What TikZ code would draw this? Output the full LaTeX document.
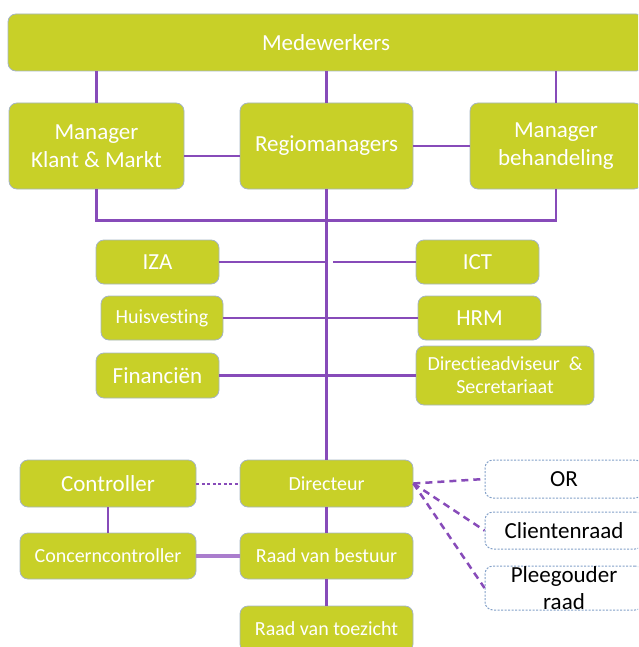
\documentclass[tikz,border=0pt]{standalone}
\usepackage{fontspec}
\setmainfont{Carlito}[Ligatures=NoCommon]
\definecolor{boxgreen}{RGB}{200,208,40}
\definecolor{boxedge}{RGB}{165,180,195}
\definecolor{linepurple}{RGB}{135,75,185}
\definecolor{lightpurple}{RGB}{170,125,205}
\definecolor{dashedge}{RGB}{130,160,200}
\tikzset{
  gbox/.style={draw=boxedge, line width=0.8pt, fill=boxgreen, rounded corners=8pt,
    text=white, align=center, inner sep=0pt},
  bigtext/.style={font=\fontsize{23}{28}\selectfont},
  smalltext/.style={font=\fontsize{20}{23}\selectfont},
  wbox/.style={draw=dashedge, line width=1pt, dash pattern=on 2pt off 1.5pt, fill=white,
    rounded corners=8pt, text=black, align=center, inner sep=0pt, font=\fontsize{23}{27}\selectfont},
  conn/.style={draw=linepurple, line width=2.2pt},
  dconn/.style={draw=linepurple, line width=2.5pt, dash pattern=on 7pt off 5pt},
  dotconn/.style={draw=linepurple, line width=2pt, dash pattern=on 3pt off 2.5pt},
  thickconn/.style={draw=lightpurple, line width=4.5pt},
}
\begin{document}
\begin{tikzpicture}[x=1pt,y=-1pt]
\useasboundingbox (0,0) rectangle (638,647);
\clip (0,0) rectangle (638,647);
% top
\node[gbox,bigtext,minimum width=636pt,minimum height=57pt] (med) at (326,42.5) {Medewerkers};
\node[gbox,bigtext,minimum width=175pt,minimum height=86pt] (mkm) at (96.5,146) {Manager\\Klant \& Markt};
\node[gbox,bigtext,minimum width=173pt,minimum height=86pt] (reg) at (326.5,146) {Regiomanagers};
\node[gbox,bigtext,minimum width=172pt,minimum height=86pt] (mbh) at (556,146) {Manager\\behandeling};
% staff
\node[gbox,bigtext,minimum width=123pt,minimum height=44pt] (iza) at (157.5,262) {IZA};
\node[gbox,bigtext,minimum width=123pt,minimum height=44pt] (ict) at (477.5,262) {ICT};
\node[gbox,smalltext,minimum width=122pt,minimum height=44pt] (hui) at (162,318) {Huisvesting};
\node[gbox,bigtext,minimum width=123pt,minimum height=44pt] (hrm) at (479.5,318) {HRM};
\node[gbox,bigtext,minimum width=123pt,minimum height=45pt] (fin) at (157.5,375.5) {Financiën};
\node[gbox,smalltext,minimum width=178pt,minimum height=59pt] (dav) at (505,375.5) {Directieadviseur~~\&\\Secretariaat};
% bottom
\node[gbox,bigtext,minimum width=176pt,minimum height=47pt] (ctrl) at (108,483.5) {Controller};
\node[gbox,smalltext,minimum width=173pt,minimum height=47pt] (dirc) at (326.5,483.5) {Directeur};
\node[gbox,smalltext,minimum width=176pt,minimum height=46pt] (conc) at (108,556) {Concerncontroller};
\node[gbox,smalltext,minimum width=173pt,minimum height=46pt] (rvb) at (326.5,556) {Raad van bestuur};
\node[gbox,smalltext,minimum width=173pt,minimum height=46pt] (rvt) at (326.5,629) {Raad van toezicht};
% councils
\node[wbox,minimum width=158pt,minimum height=38pt] (or) at (564,479) {OR};
\node[wbox,minimum width=158pt,minimum height=37pt] (cli) at (564,530.5) {Clientenraad};
\node[wbox,minimum width=158pt,minimum height=44pt] (plg) at (564,588) {Pleegouder\\raad};
% connectors
\draw[conn] (med.south -| mkm.north) -- (mkm.north);
\draw[conn] (med.south -| reg.north) -- (reg.north);
\draw[conn] (med.south -| mbh.north) -- (mbh.north);
\draw[conn] ([yshift=-10pt]mkm.east) -- ([yshift=-10pt]mkm.east -| reg.west);
\draw[conn] (reg.east) -- (mbh.west);
\draw[conn] (mkm.south) -- ++(0,31) -| (mbh.south);
\draw[conn] (reg.south) -- (dirc.north);
\draw[conn] (iza.east) -- (iza.east -| reg.south);
\draw[conn] (ict.west) -- ++(-83,0);
\draw[conn] (hui.east) -- (hrm.west);
\draw[conn] (fin.east) -- (dav.west);
\draw[dotconn] (ctrl.east) -- (dirc.west);
\draw[conn] (ctrl.south) -- (conc.north);
\draw[thickconn] (conc.east) -- (rvb.west);
\draw[conn] (dirc.south) -- (rvb.north);
\draw[conn] (rvb.south) -- (rvt.north);
\draw[dconn] (dirc.east) -- (or.west);
\draw[dconn] (dirc.east) -- (cli.west);
\draw[dconn] (dirc.east) -- (plg.west);
\end{tikzpicture}
\end{document}
